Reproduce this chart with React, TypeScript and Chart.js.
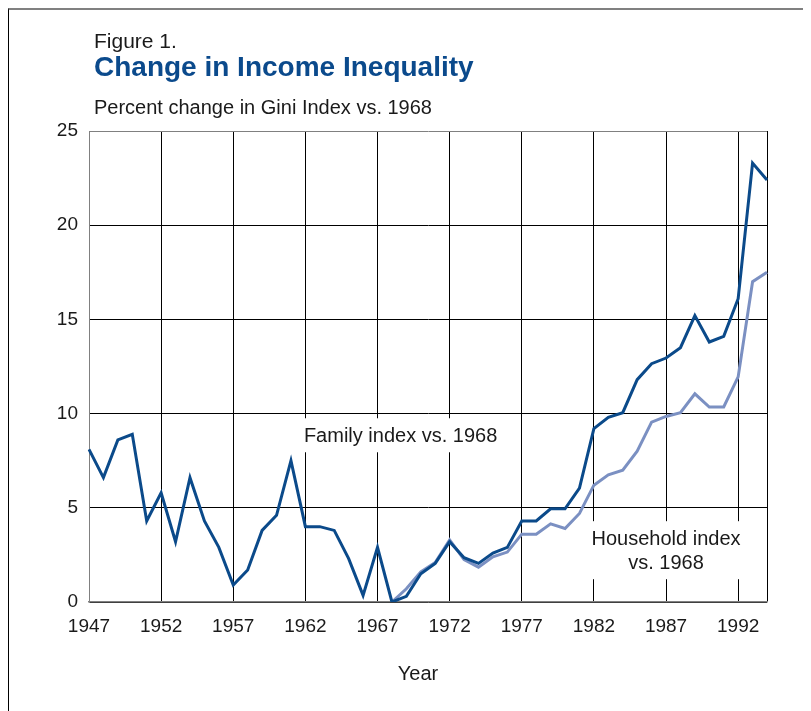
import React, { useEffect, useRef } from "react";
import { Chart, registerables } from "chart.js";

Chart.register(...registerables);

const years = [
  1947, 1948, 1949, 1950, 1951, 1952, 1953, 1954, 1955, 1956,
  1957, 1958, 1959, 1960, 1961, 1962, 1963, 1964, 1965, 1966,
  1967, 1968, 1969, 1970, 1971, 1972, 1973, 1974, 1975, 1976,
  1977, 1978, 1979, 1980, 1981, 1982, 1983, 1984, 1985, 1986,
  1987, 1988, 1989, 1990, 1991, 1992, 1993, 1994,
];

const familyIndex = [
  8.1, 6.6, 8.6, 8.9, 4.3, 5.8, 3.2, 6.6, 4.3, 2.9,
  0.9, 1.7, 3.8, 4.6, 7.5, 4.0, 4.0, 3.8, 2.3, 0.35,
  2.9, 0, 0.3, 1.5, 2.05, 3.2, 2.35, 2.05, 2.6, 2.9,
  4.3, 4.3, 4.95, 4.95, 6.05, 9.2, 9.8, 10.05, 11.8, 12.65,
  12.95, 13.5, 15.2, 13.8, 14.1, 16.1, 23.3, 22.4,
];

const householdIndex = [
  null, null, null, null, null, null, null, null, null, null,
  null, null, null, null, null, null, null, null, null, null,
  null, 0, 0.7, 1.6, 2.1, 3.3, 2.25, 1.85, 2.4, 2.65,
  3.6, 3.6, 4.15, 3.9, 4.7, 6.2, 6.75, 7.0, 8.0, 9.55,
  9.85, 10.05, 11.05, 10.35, 10.35, 11.95, 17.0, 17.5,
];

const yTicks = [0, 5, 10, 15, 20, 25];

const FONT = "'Liberation Sans', Arial, Helvetica, sans-serif";
const DARK_BLUE = "#0b4a8a";
const LIGHT_BLUE = "#7b90c2";

// annotation labels: [lines, x (category index), y (value)]
const annotations: { lines: string[]; x: number; y: number }[] = [
  { lines: ["Family index vs. 1968"], x: 21.6, y: 8.85 },
  { lines: ["Household index", "vs. 1968"], x: 40, y: 2.75 },
];

const labelPlugin = {
  id: "labelPlugin",
  beforeDatasetsDraw(chart: any) {
    const { ctx, scales } = chart;
    const xs = scales.x;
    const ys = scales.y;
    ctx.save();
    ctx.font = `20px ${FONT}`;
    ctx.textAlign = "center";
    ctx.textBaseline = "middle";
    const lineH = 24;
    annotations.forEach((a) => {
      const cx = xs.getPixelForValue(a.x);
      const cy = ys.getPixelForValue(a.y);
      const w = Math.max(...a.lines.map((l) => ctx.measureText(l).width));
      const h = a.lines.length * lineH;
      ctx.fillStyle = "#ffffff";
      ctx.fillRect(cx - w / 2 - 5, cy - h / 2 - 5, w + 10, h + 10);
      ctx.fillStyle = "#1a1a1a";
      a.lines.forEach((l, i) => {
        ctx.fillText(l, cx, cy - h / 2 + lineH / 2 + i * lineH + 1);
      });
    });
    ctx.restore();
  },
};

export default function App() {
  const canvasRef = useRef<HTMLCanvasElement | null>(null);

  useEffect(() => {
    document.documentElement.style.overflow = "hidden";
    if (!canvasRef.current) return;
    const last = years.length - 1;
    const chart = new Chart(canvasRef.current, {
      type: "line",
      data: {
        labels: years,
        datasets: [
          {
            label: "Family index vs. 1968",
            data: familyIndex,
            borderColor: DARK_BLUE,
            borderWidth: 3,
            pointRadius: 0,
            tension: 0,
            fill: false,
          },
          {
            label: "Household index vs. 1968",
            data: householdIndex,
            borderColor: LIGHT_BLUE,
            borderWidth: 3,
            pointRadius: 0,
            tension: 0,
            fill: false,
          },
        ],
      },
      options: {
        animation: false,
        responsive: false,
        maintainAspectRatio: false,
        layout: { padding: { top: 123, right: 36, left: 0, bottom: 0 } },
        plugins: {
          legend: { display: false },
          tooltip: { enabled: false },
          title: { display: false },
        },
        scales: {
          x: {
            type: "category",
            offset: false,
            grid: {
              color: (c: any) =>
                c.index % 5 === 0 || c.index === last ? "#000000" : "rgba(0,0,0,0)",
              lineWidth: 1,
              drawTicks: false,
            },
            border: { color: "#808080", width: 1.5 },
            ticks: {
              autoSkip: false,
              maxRotation: 0,
              minRotation: 0,
              padding: 13,
              color: "#1a1a1a",
              font: { family: FONT, size: 19 },
              callback: (_v: any, i: number) => (i % 5 === 0 ? String(years[i]) : ""),
            },
            title: { display: false },
            afterFit: (s: any) => {
              s.height = 101;
            },
          },
          y: {
            min: 0,
            max: 25,
            afterBuildTicks: (s: any) => {
              s.ticks = yTicks.map((v) => ({ value: v }));
            },
            grid: {
              color: (c: any) => (c.tick && c.tick.value === 25 ? "#808080" : "#000000"),
              lineWidth: 1,
              drawTicks: false,
            },
            border: { color: "#808080", width: 1 },
            ticks: {
              padding: 11,
              color: "#1a1a1a",
              font: { family: FONT, size: 19 },
            },
            afterFit: (s: any) => {
              s.width = 81;
            },
          },
        },
      },
      plugins: [labelPlugin],
    });
    return () => chart.destroy();
  }, []);

  const text = (extra: React.CSSProperties): React.CSSProperties => ({
    position: "absolute",
    fontFamily: FONT,
    lineHeight: 1,
    color: "#1a1a1a",
    whiteSpace: "nowrap",
    ...extra,
  });

  return (
    <div
      style={{
        position: "relative",
        width: 811,
        height: 711,
        background: "#fff",
        borderTop: "2px solid #808080",
        borderLeft: "1px solid #000",
        boxSizing: "border-box",
        overflow: "hidden",
      }}
    >
      <canvas
        ref={canvasRef}
        width={795}
        height={695}
        style={{ position: "absolute", left: -1, top: -2, width: 795, height: 695 }}
      />
      <div style={text({ left: 85, top: 20, fontSize: 21 })}>Figure 1.</div>
      <div style={text({ left: 85, top: 43, fontSize: 28, fontWeight: "bold", color: "#0b4a8c" })}>
        Change in Income Inequality
      </div>
      <div style={text({ left: 85, top: 87, fontSize: 20 })}>
        Percent change in Gini Index vs. 1968
      </div>
      <div style={text({ left: 409, top: 653, fontSize: 20, transform: "translateX(-50%)" })}>
        Year
      </div>
    </div>
  );
}
